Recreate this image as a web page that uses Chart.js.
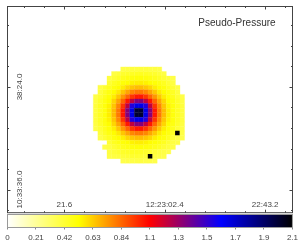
<!DOCTYPE html>
<html lang="en">
  <head>
    <meta charset="UTF-8" />
    <title>Pseudo-Pressure</title>
    <script src="https://cdn.jsdelivr.net/npm/chart.js"></script>
    <style>
      html, body { margin: 0; padding: 0; background: #fff; overflow: hidden; }
      #mapBox { position: absolute; left: 0; top: 0; width: 301px; height: 217px; }
      #barBox { position: absolute; left: 0; top: 213px; width: 301px; height: 36px; }
      canvas { display: block; }
    </style>
  </head>
  <body>
    <div id="mapBox"><canvas id="mapChart" width="301" height="217"></canvas></div>
    <div id="barBox"><canvas id="barChart" width="301" height="36"></canvas></div>
    <script>
      // values, one row per image line, top to bottom
      const rowFirstCol = [6, 4, 3, 3, 1, 1, 0, 0, 0, 0, 0, 0, 0, 0, 1, 1, 3, 2, 3, 3, 6];
      const pressureRows = [
        [0.38, 0.39, 0.40, 0.40, 0.40, 0.40, 0.39, 0.39, 0.38],
        [0.39, 0.41, 0.43, 0.44, 0.45, 0.46, 0.46, 0.45, 0.44, 0.43, 0.41, 0.39],
        [0.39, 0.42, 0.45, 0.47, 0.49, 0.50, 0.51, 0.51, 0.50, 0.49, 0.47, 0.45, 0.42, 0.40, 0.38],
        [0.42, 0.46, 0.49, 0.51, 0.53, 0.55, 0.56, 0.56, 0.55, 0.53, 0.51, 0.49, 0.46, 0.42, 0.39],
        [0.38, 0.42, 0.46, 0.50, 0.53, 0.56, 0.61, 0.64, 0.66, 0.66, 0.64, 0.61, 0.56, 0.53, 0.50, 0.46, 0.42, 0.38],
        [0.40, 0.45, 0.49, 0.53, 0.57, 0.64, 0.71, 0.77, 0.80, 0.80, 0.77, 0.71, 0.64, 0.57, 0.53, 0.49, 0.45, 0.40],
        [0.38, 0.42, 0.47, 0.51, 0.56, 0.64, 0.74, 0.84, 0.94, 1.00, 1.00, 0.94, 0.84, 0.74, 0.64, 0.56, 0.51, 0.47, 0.42, 0.38],
        [0.39, 0.44, 0.49, 0.53, 0.61, 0.71, 0.84, 1.00, 1.18, 1.30, 1.30, 1.18, 1.00, 0.84, 0.71, 0.61, 0.53, 0.49, 0.44, 0.39],
        [0.40, 0.45, 0.50, 0.55, 0.64, 0.77, 0.94, 1.18, 1.50, 1.62, 1.62, 1.50, 1.18, 0.94, 0.77, 0.64, 0.55, 0.50, 0.45, 0.40],
        [0.40, 0.45, 0.50, 0.56, 0.66, 0.80, 1.00, 1.30, 1.62, 2.00, 2.00, 1.62, 1.30, 1.00, 0.80, 0.66, 0.56, 0.50, 0.45, 0.40],
        [0.40, 0.45, 0.50, 0.56, 0.66, 0.80, 1.00, 1.30, 1.62, 2.00, 2.00, 1.62, 1.30, 1.00, 0.80, 0.66, 0.56, 0.50, 0.45, 0.40],
        [0.40, 0.45, 0.50, 0.55, 0.64, 0.77, 0.94, 1.18, 1.50, 1.62, 1.62, 1.50, 1.18, 0.94, 0.77, 0.64, 0.55, 0.50, 0.45, 0.40],
        [0.39, 0.44, 0.49, 0.53, 0.61, 0.71, 0.84, 1.00, 1.18, 1.30, 1.30, 1.18, 1.00, 0.84, 0.71, 0.61, 0.53, 0.49, 0.44, 0.39],
        [0.38, 0.42, 0.47, 0.51, 0.56, 0.64, 0.74, 0.84, 0.94, 1.00, 1.00, 0.94, 0.84, 0.74, 0.64, 0.56, 0.51, 0.47, 0.42, 0.38],
        [0.40, 0.45, 0.49, 0.53, 0.57, 0.64, 0.71, 0.77, 0.80, 0.80, 0.77, 0.71, 0.64, 0.57, 0.53, 0.49, 0.45, 0.40, 0.38],
        [0.38, 0.42, 0.46, 0.50, 0.53, 0.56, 0.61, 0.64, 0.66, 0.66, 0.64, 0.61, 0.56, 0.53, 0.50, 0.46, 0.42, 0.38, 0.37],
        [0.42, 0.46, 0.49, 0.51, 0.53, 0.55, 0.56, 0.56, 0.55, 0.53, 0.51, 0.49, 0.46, 0.42, 0.39, 0.38],
        [0.37, 0.39, 0.42, 0.45, 0.47, 0.49, 0.50, 0.51, 0.51, 0.50, 0.49, 0.47, 0.45, 0.42, 0.40, 0.38],
        [0.39, 0.41, 0.43, 0.44, 0.45, 0.46, 0.46, 0.45, 0.44, 0.43, 0.41, 0.39, 0.38, 0.37],
        [0.38, 0.39, 0.40, 0.41, 0.42, 0.43, 0.43, 0.42, 0.41, 0.40, 0.39, 0.38, 0.37],
        [0.37, 0.38, 0.38, 0.39, 0.39, 0.38, 0.38, 0.37]
      ];
      // seconds from 12:23:02.4 and arcsec from 10:33:36.0
      const gridStartX = -28.1;
      const gridStepX = 1.853;
      const gridStartY = 338;
      const gridStepY = -12.88;
      const sourceX = [5.12, -5.97];
      const sourceY = [159, 93.2];

      const xMajorTicks = [-40.8, 0, 40.8];
      const xMajorLabels = ["21.6", "12:23:02.4", "22:43.2"];
      const xMinorTicks = [-57.12, -48.96, -32.64, -24.48, -16.32, -8.16, 8.16, 16.32, 24.48, 32.64, 48.96];
      const yMajorTicks = [0, 288];
      const yMajorLabels = ["10:33:36.0", "38:24.0"];
      const yMinorTicks = [-57.6, 57.6, 115.2, 172.8, 230.4, 345.6, 403.2, 460.8];

      const colorStops = [0, 0.525, 1.05, 1.575, 2.1];
      const stopColors = [[255, 255, 255], [255, 255, 0], [255, 0, 0], [0, 0, 255], [0, 0, 0]];
      const barLabels = ["0", "0.21", "0.42", "0.63", "0.84", "1.1", "1.3", "1.5", "1.7", "1.9", "2.1"];

      const FONT = "'Liberation Sans', Arial, sans-serif";
      const TEXT_COLOR = "#444";

      const colorFor = function (v) {
        let i = 0;
        while (i < colorStops.length - 2 && v > colorStops[i + 1]) i++;
        const t = (v - colorStops[i]) / (colorStops[i + 1] - colorStops[i]);
        const a = stopColors[i];
        const b = stopColors[i + 1];
        return "rgb(" + a.map((c, k) => Math.round(c + (b[k] - c) * t)).join(",") + ")";
      };

      const cells = [];
      pressureRows.forEach(function (row, r) {
        row.forEach(function (v, k) {
          cells.push({
            x: gridStartX + gridStepX * (rowFirstCol[r] + k),
            y: gridStartY + gridStepY * r,
            v: v,
          });
        });
      });
      const sources = sourceX.map((x, i) => ({ x: x, y: sourceY[i] }));

      // inward ticks on all four sides, frame and the labels that sit inside the plot
      const framePlugin = {
        id: "frame",
        afterDatasetsDraw(chart) {
          const { ctx, chartArea: a, scales } = chart;
          const xs = scales.x;
          const ys = scales.y;
          ctx.save();
          ctx.strokeStyle = "#444";
          ctx.lineWidth = 1;
          ctx.strokeRect(a.left, a.top, a.right - a.left, a.bottom - a.top);
          const tickX = function (v, len) {
            const p = Math.round(xs.getPixelForValue(v)) + 0.5;
            ctx.beginPath();
            ctx.moveTo(p, a.top);
            ctx.lineTo(p, a.top + len);
            ctx.moveTo(p, a.bottom);
            ctx.lineTo(p, a.bottom - len);
            ctx.stroke();
          };
          const tickY = function (v, len) {
            const p = Math.round(ys.getPixelForValue(v)) + 0.5;
            ctx.beginPath();
            ctx.moveTo(a.left, p);
            ctx.lineTo(a.left + len, p);
            ctx.moveTo(a.right, p);
            ctx.lineTo(a.right - len, p);
            ctx.stroke();
          };
          xMinorTicks.forEach((v) => tickX(v, 1.5));
          xMajorTicks.forEach((v) => tickX(v, 3));
          yMinorTicks.forEach((v) => tickY(v, 1.5));
          yMajorTicks.forEach((v) => tickY(v, 3));

          ctx.fillStyle = TEXT_COLOR;
          ctx.font = "8px " + FONT;
          ctx.textAlign = "center";
          ctx.textBaseline = "middle";
          xMajorTicks.forEach(function (v, i) {
            ctx.fillText(xMajorLabels[i], xs.getPixelForValue(v), 205);
          });
          yMajorTicks.forEach(function (v, i) {
            ctx.save();
            ctx.translate(19.5, ys.getPixelForValue(v));
            ctx.rotate(-Math.PI / 2);
            ctx.fillText(yMajorLabels[i], 0, 0);
            ctx.restore();
          });
          ctx.font = "10px " + FONT;
          ctx.fillStyle = "#333";
          ctx.fillText("Pseudo-Pressure", 237, 23);
          ctx.restore();
        },
      };

      new Chart(document.getElementById("mapChart"), {
        type: "scatter",
        data: {
          datasets: [
            {
              label: "Pseudo-Pressure",
              data: cells,
              pointStyle: "rect",
              pointRadius: 3.25,
              pointBorderWidth: 0.3,
              pointBackgroundColor: cells.map((c) => colorFor(c.v)),
              pointBorderColor: cells.map((c) => colorFor(c.v)),
              order: 2,
            },
            {
              label: "sources",
              data: sources,
              pointStyle: "rect",
              pointRadius: 3.2,
              pointBorderWidth: 0,
              pointBackgroundColor: "#000",
              order: 1,
            },
          ],
        },
        options: {
          responsive: false,
          animation: false,
          layout: { padding: { left: 7.5, right: 8.5, top: 6.5, bottom: 2 } },
          plugins: { legend: { display: false }, tooltip: { enabled: false } },
          scales: {
            x: {
              type: "linear",
              min: -63.9,
              max: 51.9,
              ticks: { display: false },
              grid: { display: false },
              border: { display: false },
              afterFit(scale) { scale.height = 0; },
            },
            y: {
              type: "linear",
              min: -65,
              max: 514,
              ticks: { display: false },
              grid: { display: false },
              border: { display: false },
              afterFit(scale) { scale.width = 0; },
            },
          },
        },
        plugins: [framePlugin],
      });

      new Chart(document.getElementById("barChart"), {
        type: "bar",
        data: {
          labels: ["scale"],
          datasets: [
            {
              data: [[colorStops[0], colorStops[colorStops.length - 1]]],
              barPercentage: 1,
              categoryPercentage: 1,
              backgroundColor(context) {
                const a = context.chart.chartArea;
                if (!a) return "#fff";
                const g = context.chart.ctx.createLinearGradient(a.left, 0, a.right, 0);
                colorStops.forEach(function (s, i) {
                  g.addColorStop(s / 2.1, "rgb(" + stopColors[i].join(",") + ")");
                });
                return g;
              },
            },
          ],
        },
        options: {
          indexAxis: "y",
          responsive: false,
          animation: false,
          layout: { padding: { left: 7.5, right: 8, top: 1.5, bottom: 0 } },
          plugins: { legend: { display: false }, tooltip: { enabled: false } },
          scales: {
            x: {
              type: "linear",
              min: 0,
              max: 2.1,
              border: { color: "#999" },
              grid: { drawOnChartArea: false, tickLength: 2, color: "#888" },
              ticks: {
                stepSize: 0.21,
                autoSkip: false,
                maxRotation: 0,
                padding: 3,
                color: TEXT_COLOR,
                font: { family: FONT, size: 8 },
                callback(value, index) {
                  return barLabels[index];
                },
              },
              afterFit(scale) { scale.height = 21.5; },
            },
            y: {
              display: false,
            },
          },
        },
        plugins: [
          {
            id: "barFrame",
            afterDatasetsDraw(chart) {
              const a = chart.chartArea;
              chart.ctx.save();
              chart.ctx.strokeStyle = "#999";
              chart.ctx.strokeRect(a.left, a.top, a.right - a.left, a.bottom - a.top);
              chart.ctx.restore();
            },
          },
        ],
      });
    </script>
  </body>
</html>
